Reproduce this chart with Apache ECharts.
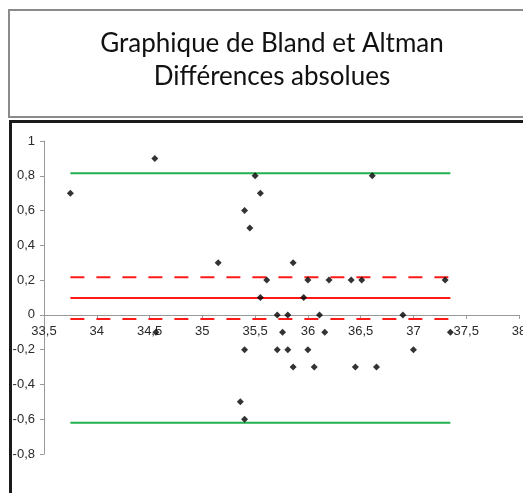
<!DOCTYPE html>
<html><head><meta charset="utf-8">
<script src="https://cdn.jsdelivr.net/npm/echarts@6/dist/echarts.min.js"></script>
<style>html,body{margin:0;padding:0;background:#fff}#c{width:523px;height:493px}</style>
</head><body><div id="c"></div>
<script>
const titleLines = ['Graphique de Bland et Altman', 'Différences absolues'];
const meanValues = [33.75, 34.55, 34.56, 35.15, 35.5, 35.55, 35.4, 35.45, 35.86, 35.61, 36.0, 36.2, 36.41, 36.51, 37.3, 36.61, 35.55, 35.96, 35.71, 35.81, 36.11, 36.9, 35.76, 36.16, 37.35, 35.4, 35.71, 35.81, 36.0, 37.0, 35.86, 36.06, 36.45, 36.65, 35.36, 35.4];
const diffValues = [0.7, 0.9, -0.1, 0.3, 0.8, 0.7, 0.6, 0.5, 0.3, 0.2, 0.2, 0.2, 0.2, 0.2, 0.2, 0.8, 0.1, 0.1, 0, 0, 0, 0, -0.1, -0.1, -0.1, -0.2, -0.2, -0.2, -0.2, -0.2, -0.3, -0.3, -0.3, -0.3, -0.5, -0.6];
const lineXRange = [33.75, 37.35];
const meanDiff = 0.097;
const ciUpper = 0.217;
const ciLower = -0.023;
const loaUpper = 0.815;
const loaLower = -0.62;
const xTicks = [33.5, 38, 0.5];
const yTicks = [-0.8, 1, 0.2];

const fmt = v => { const r = Math.round(v * 10) / 10; return String(r).replace('.', ','); };
const hline = (y, color, type) => ({
  type: 'line', data: [[lineXRange[0], y], [lineXRange[1], y]], symbol: 'none', silent: true,
  lineStyle: { color: color, width: 2, type: type }, z: 1
});
const gridTop = 141, gridBottom = 39, H = 493;
const plotH = H - gridTop - gridBottom;
const zeroOffset = -plotH * (0 - yTicks[0]) / (yTicks[1] - yTicks[0]);
const chart = echarts.init(document.getElementById('c'));
chart.setOption({
  animation: false,
  graphic: [
    { type: 'rect', shape: { x: 9, y: 10, width: 540, height: 107 }, style: { fill: '#fff', stroke: '#8a8a8a', lineWidth: 2 }, z: -10 },
    { type: 'rect', shape: { x: 10.5, y: 121.5, width: 540, height: 400 }, style: { fill: '#fff', stroke: '#1a1a1a', lineWidth: 3 }, z: -10 },
    { type: 'text', style: { text: titleLines.join('\n'), x: 272, y: 27, textAlign: 'center', font: '26px Lato', fill: '#111', lineHeight: 33 }, z: 10 }
  ],
  grid: { left: 44, right: 4, top: gridTop, bottom: gridBottom, outerBoundsMode: 'none', containLabel: false },
  xAxis: {
    type: 'value', min: xTicks[0], max: xTicks[1], interval: xTicks[2],
    offset: zeroOffset,
    axisLine: { onZero: false, lineStyle: { color: '#999', width: 1 } },
    axisTick: { show: true, inside: false, length: 4, lineStyle: { color: '#999' } },
    axisLabel: { formatter: fmt, color: '#2a2a2a', fontSize: 13, fontFamily: 'Liberation Sans, Arial', margin: 10 },
    splitLine: { show: false }
  },
  yAxis: {
    type: 'value', min: yTicks[0], max: yTicks[1], interval: yTicks[2],
    axisLine: { show: true, lineStyle: { color: '#999', width: 1 } },
    axisTick: { show: true, length: 4, lineStyle: { color: '#999' } },
    axisLabel: { formatter: fmt, color: '#2a2a2a', fontSize: 13, fontFamily: 'Liberation Sans, Arial', margin: 9 },
    splitLine: { show: false }
  },
  series: [
    hline(loaUpper, '#22b14c', 'solid'),
    hline(loaLower, '#22b14c', 'solid'),
    hline(meanDiff, '#ff1a1a', 'solid'),
    hline(ciUpper, '#ff1a1a', [14, 12]),
    hline(ciLower, '#ff1a1a', [14, 12]),
    {
      type: 'scatter', symbol: 'diamond', symbolSize: 7,
      itemStyle: { color: '#000' }, z: 5,
      data: meanValues.map((x, i) => [x, diffValues[i]])
    }
  ]
});
</script></body></html>
